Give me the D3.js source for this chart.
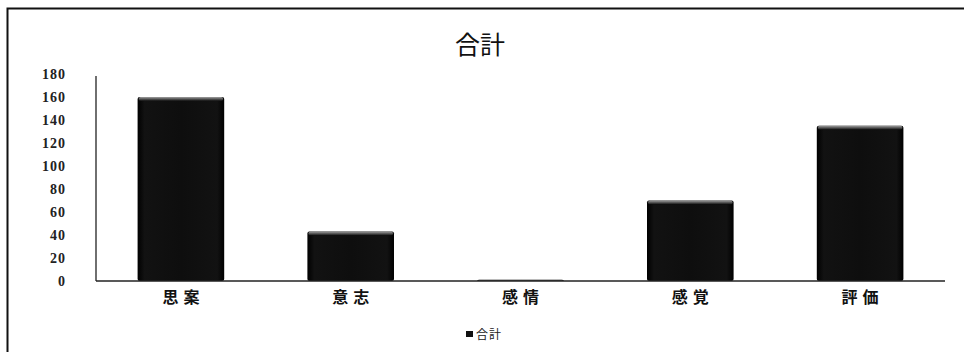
<!DOCTYPE html>
<html>
<head>
<meta charset="utf-8">
<script src="https://cdn.jsdelivr.net/npm/d3@7/dist/d3.min.js"></script>
<style>
  html, body { margin: 0; padding: 0; background: #fff; }
  svg { display: block; }
</style>
</head>
<body>
<script>
// Totals per category
const categories = ["思案", "意志", "感情", "感覚", "評価"];
const values = [160, 43, 1, 70, 135];
const yTicks = [0, 20, 40, 60, 80, 100, 120, 140, 160, 180];
const seriesName = "合計";

const W = 964, H = 352;
const svg = d3.select("body").append("svg").attr("width", W).attr("height", H);

// Chart frame
svg.append("rect")
  .attr("x", 7.5).attr("y", 8.5)
  .attr("width", W + 10).attr("height", H + 10)
  .attr("fill", "#fff").attr("stroke", "#111").attr("stroke-width", 2);

const plot = { left: 96, right: 945, top: 74, bottom: 281 };

const x = d3.scaleBand().domain(categories)
  .range([plot.left, plot.right]).paddingInner(0.49).paddingOuter(0.245);
const y = d3.scaleLinear().domain([0, 180]).range([plot.bottom, plot.top]);

// Bar shading: dark body with a lighter bevel along the top
const defs = svg.append("defs");
const body = defs.append("linearGradient").attr("id", "barBody")
  .attr("x1", 0).attr("x2", 1).attr("y1", 0).attr("y2", 0);
body.append("stop").attr("offset", "0%").attr("stop-color", "#000");
body.append("stop").attr("offset", "8%").attr("stop-color", "#121212");
body.append("stop").attr("offset", "50%").attr("stop-color", "#0e0e0e");
body.append("stop").attr("offset", "92%").attr("stop-color", "#121212");
body.append("stop").attr("offset", "100%").attr("stop-color", "#000");
const bevel = defs.append("linearGradient").attr("id", "barTop")
  .attr("x1", 0).attr("x2", 0).attr("y1", 0).attr("y2", 1);
bevel.append("stop").attr("offset", "0%").attr("stop-color", "#a0a0a0");
bevel.append("stop").attr("offset", "100%").attr("stop-color", "#0e0e0e");

// Title
svg.append("text")
  .attr("x", 480).attr("y", 54)
  .attr("text-anchor", "middle")
  .attr("font-family", "'Noto Sans CJK JP', sans-serif")
  .attr("font-size", 25)
  .attr("fill", "#111")
  .text(seriesName);

// Y axis
const yAxis = d3.axisLeft(y).tickValues(yTicks).tickSize(0).tickPadding(30);
const gy = svg.append("g").attr("transform", `translate(${plot.left},0)`).call(yAxis);
gy.select(".domain").attr("stroke", "#222").attr("stroke-width", 1.3)
  .attr("d", `M0,${plot.top + 2}V${plot.bottom}`);
gy.selectAll("text")
  .attr("font-family", "'Liberation Serif', serif")
  .attr("font-weight", "bold")
  .attr("font-size", 14)
  .attr("letter-spacing", 1)
  .attr("fill", "#222");

// Bars
const bars = svg.append("g");
bars.selectAll("rect.body").data(values).join("rect")
  .attr("class", "body")
  .attr("x", (d, i) => x(categories[i]))
  .attr("y", d => y(d))
  .attr("width", x.bandwidth())
  .attr("height", d => y(0) - y(d))
  .attr("rx", 2)
  .attr("fill", "url(#barBody)");
bars.selectAll("rect.top").data(values).join("rect")
  .attr("class", "top")
  .attr("x", (d, i) => x(categories[i]) + 1)
  .attr("y", d => y(d))
  .attr("width", x.bandwidth() - 2)
  .attr("height", d => Math.min(4, y(0) - y(d)))
  .attr("rx", 2)
  .attr("fill", "url(#barTop)");

// X axis
const xAxis = d3.axisBottom(x).tickSize(0).tickPadding(11);
const gx = svg.append("g").attr("transform", `translate(0,${plot.bottom})`).call(xAxis);
gx.select(".domain").attr("stroke", "#222").attr("stroke-width", 1.3)
  .attr("d", `M${plot.left},0H${plot.right}`);
gx.selectAll("text")
  .attr("font-family", "'Noto Sans CJK JP', sans-serif")
  .attr("font-weight", "bold")
  .attr("font-size", 16)
  .attr("letter-spacing", 5)
  .attr("dx", 2.5)
  .attr("fill", "#111");

// Legend
const lg = svg.append("g").attr("transform", "translate(466,335)");
lg.append("rect").attr("x", 0).attr("y", -4).attr("width", 7).attr("height", 6).attr("fill", "#111");
lg.append("text").attr("x", 10).attr("y", 4)
  .attr("font-family", "'Noto Sans CJK JP', sans-serif")
  .attr("font-size", 12)
  .attr("letter-spacing", 1)
  .attr("fill", "#222")
  .text(seriesName);
</script>
</body>
</html>
